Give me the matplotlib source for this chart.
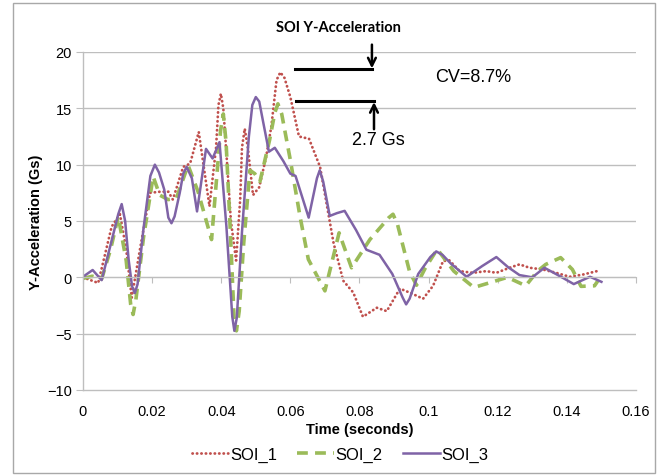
import numpy as np
import matplotlib
matplotlib.use("Agg")
import matplotlib.pyplot as plt
from matplotlib.lines import Line2D
from matplotlib.patches import Rectangle

plt.rcParams['font.family'] = ['Liberation Sans', 'DejaVu Sans']

# SOI_1 (red dotted)
t1 = [0, 0.0044, 0.0083, 0.0107, 0.0125, 0.0141, 0.0165, 0.0194, 0.0223, 0.0247,
      0.026, 0.029, 0.031, 0.0335, 0.0366, 0.0385, 0.0392, 0.0399, 0.0406, 0.0415,
      0.0428, 0.0443, 0.0455, 0.046, 0.0468, 0.0477, 0.0492, 0.051, 0.053, 0.0545,
      0.056, 0.0571, 0.0583, 0.060, 0.0625, 0.0654, 0.0686, 0.0725, 0.0753, 0.0782,
      0.081, 0.085, 0.0879, 0.0917, 0.0945, 0.0984, 0.1013, 0.1042, 0.106, 0.109,
      0.1128, 0.1167, 0.1196, 0.1234, 0.1263, 0.1292, 0.133, 0.1369, 0.1408, 0.1447,
      0.1494]
soi1 = [0, -0.5, 4.5, 5.6, 2.5, -1.8, 2.5, 7.5, 7.6, 7.6,
        6.9, 9.8, 10.1, 12.9, 6.3, 11.5, 15.3, 16.3, 15.0, 11.0,
        5.0, 1.5, 7.0, 11.5, 13.2, 11.5, 7.3, 8.0, 10.7, 13.4,
        17.5, 18.2, 17.7, 16.0, 12.5, 12.3, 9.8, 3.05, -0.3, -1.35,
        -3.5, -2.7, -3.0, -1.0, -1.35, -1.9, -0.75, 1.45, 1.5, 0.55,
        0.4, 0.55, 0.4, 0.85, 1.15, 0.85, 0.7, 0.4, 0.05, 0.25,
        0.6]

# SOI_2 (green dashed)
t2 = [0, 0.0027, 0.0054, 0.008, 0.0102, 0.0125, 0.0138, 0.0145, 0.0153, 0.0175,
      0.0203, 0.0222, 0.0246, 0.027, 0.0304, 0.0333, 0.0372, 0.0398, 0.0406, 0.0414,
      0.0425, 0.0437, 0.0444, 0.0452, 0.0465, 0.0483, 0.0497, 0.0512, 0.054, 0.0555,
      0.0564, 0.0575, 0.060, 0.0628, 0.0652, 0.070, 0.0741, 0.0777, 0.083, 0.0885,
      0.0897, 0.091, 0.0945, 0.0965, 0.099, 0.1025, 0.1073, 0.1131, 0.118, 0.1228,
      0.1281, 0.1315, 0.1339, 0.1382, 0.1416, 0.1441, 0.148, 0.149]
soi2 = [-0.1, 0.1, -0.15, 2.5, 5.4, 1.5, -2.4, -3.3, -2.0, 3.5,
        8.95, 7.3, 6.9, 7.0, 9.95, 7.6, 3.35, 13.0, 14.5, 12.0,
        5.0, -3.5, -4.75, -3.0, 3.0, 9.5, 9.2, 8.5, 12.2, 14.6,
        15.4, 14.5, 10.4, 5.4, 1.6, -1.2, 3.95, 0.85, 3.35, 5.3,
        5.6, 4.7, 0.5, -0.7, 0.8, 2.5, 0.55, -0.9, -0.45, 0.0,
        -0.75, 0.55, 1.15, 1.75, 0.7, -0.8, -0.75, -0.3]

# SOI_3 (purple solid)
t3 = [0, 0.0028, 0.0054, 0.0085, 0.0102, 0.0112, 0.0122, 0.0132, 0.0142, 0.0150,
      0.0158, 0.0175, 0.0195, 0.0208, 0.022, 0.0235, 0.0247, 0.0256, 0.0265, 0.028,
      0.029, 0.030, 0.0315, 0.033, 0.0356, 0.0375, 0.0395, 0.0415, 0.0432, 0.0438,
      0.0445, 0.046, 0.048, 0.049, 0.050, 0.051, 0.052, 0.0538, 0.0555, 0.058,
      0.060, 0.0615, 0.0653, 0.0677, 0.0685, 0.0695, 0.0714, 0.0735, 0.0757, 0.079,
      0.082, 0.0858, 0.0895, 0.0925, 0.0935, 0.0945, 0.097, 0.1005, 0.1022, 0.104,
      0.1065, 0.111, 0.1155, 0.1196, 0.123, 0.1263, 0.130, 0.1335, 0.138, 0.142,
      0.1467, 0.150]
soi3 = [0.05, 0.65, -0.25, 3.5, 5.6, 6.5, 5.0, 1.6, -0.8, -1.4,
        -0.6, 4.3, 9.0, 10.0, 9.3, 7.8, 5.3, 4.8, 5.4, 7.5,
        9.2, 9.8, 8.8, 5.85, 11.4, 10.55, 12.0, 4.5, -3.5, -4.75,
        -3.6, 4.0, 12.5, 15.3, 16.0, 15.6, 14.0, 11.15, 11.5, 10.3,
        9.2, 9.0, 5.3, 8.8, 9.5, 8.5, 5.45, 5.7, 5.9, 4.2,
        2.45, 2.0, 0.3, -1.8, -2.4, -1.9, 0.3, 1.8, 2.3, 2.0,
        1.2, 0.05, 1.0, 1.8, 0.9, 0.2, 0.0, 0.85, 0.1, -0.6,
        0.05, -0.4]

xticks = [0, 0.02, 0.04, 0.06, 0.08, 0.1, 0.12, 0.14, 0.16]
xticklabels = ['0', '0.02', '0.04', '0.06', '0.08', '0.1', '0.12', '0.14', '0.16']
yticks = [-10, -5, 0, 5, 10, 15, 20]

red = '#C0504D'
green = '#9BBB59'
purple = '#7F63A6'
gray = '#BEBEBE'

fig = plt.figure(figsize=(6.67, 4.77), dpi=100)
ax = fig.add_axes([0.1244, 0.1803, 0.8291, 0.7086])

ax.plot(t1, soi1, color=red, lw=2.0, linestyle=(0, (0.1, 1.5)),
        dash_capstyle='round', solid_joinstyle='round', label='SOI_1')
ax.plot(t2, soi2, color=green, lw=2.6, linestyle=(0, (3, 2)),
        solid_joinstyle='round', label='SOI_2')
ax.plot(t3, soi3, color=purple, lw=1.8, solid_joinstyle='round', label='SOI_3')

ax.set_xlim(0, 0.16)
ax.set_ylim(-10, 20)
ax.set_xticks(xticks)
ax.set_xticklabels(xticklabels)
ax.set_yticks(yticks)

for y in yticks:
    if y != -10:
        ax.axhline(y, color=gray, lw=1.0, zorder=0)

# zero line carries the x tick marks
ax.spines['top'].set_position(('data', 0))
ax.spines['top'].set_color(gray)
ax.spines['right'].set_visible(False)
ax.spines['left'].set_color(gray)
ax.spines['bottom'].set_color(gray)
ax.spines['left'].set_linewidth(1.0)
ax.spines['bottom'].set_linewidth(1.0)
ax.tick_params(axis='x', top=True, bottom=False, labeltop=False, labelbottom=True,
               direction='in', length=4, color=gray, pad=10, labelsize=10.5)
ax.tick_params(axis='y', direction='out', length=5, color=gray, labelsize=10.5, pad=3)

ax.set_xlabel('Time (seconds)', fontweight='bold', fontsize=10.5, labelpad=3)
ax.set_ylabel('Y-Acceleration (Gs)', fontweight='bold', fontsize=10.5, labelpad=3)

# annotation
ax.text(0.0739, 22.2, 'SOI Y-Acceleration', ha='center', va='center',
        fontsize=10.5, fontweight='bold', family='Lato', clip_on=False)
ax.plot([0.0614, 0.0836], [18.45, 18.45], color='black', lw=2.2, clip_on=False)
ax.plot([0.0617, 0.0842], [15.65, 15.65], color='black', lw=2.2, clip_on=False)
ax.annotate('', xy=(0.0836, 18.3), xytext=(0.0836, 20.9),
            arrowprops=dict(arrowstyle='->', lw=1.8, color='black', mutation_scale=14),
            annotation_clip=False)
ax.annotate('', xy=(0.0842, 15.8), xytext=(0.0842, 12.9),
            arrowprops=dict(arrowstyle='->', lw=1.8, color='black', mutation_scale=14))
ax.text(0.0855, 12.2, '2.7 Gs', ha='center', va='center', fontsize=13)
ax.text(0.1128, 17.8, 'CV=8.7%', ha='center', va='center', fontsize=13)

handles = [Line2D([], [], color=red, lw=2.0, linestyle=(0, (0.1, 1.5)), dash_capstyle='round'),
           Line2D([], [], color=green, lw=2.6, linestyle=(0, (3, 2))),
           Line2D([], [], color=purple, lw=1.8)]
fig.legend(handles, ['SOI_1', 'SOI_2', 'SOI_3'], loc='center', ncol=3,
           bbox_to_anchor=(0.51, 0.045), frameon=False, fontsize=12,
           handlelength=2.2, handletextpad=0.1, columnspacing=1.2)

fig.patches.append(Rectangle((13 / 667, 3 / 477), 642 / 667, 470 / 477,
                             transform=fig.transFigure, fill=False,
                             edgecolor='#A8A8A8', lw=1.0))

fig.savefig('out.png', dpi=100)
